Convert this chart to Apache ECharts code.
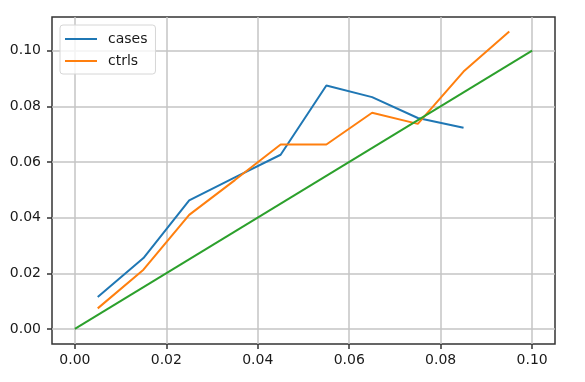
<!DOCTYPE html>
<html>
<head>
<meta charset="utf-8">
<script src="https://cdn.jsdelivr.net/npm/echarts@6/dist/echarts.min.js"></script>
<style>html,body{margin:0;padding:0;background:#fff}#c{width:585px;height:382px}</style>
</head>
<body>
<div id="c"></div>
<script>
var casesX = [0.005, 0.015, 0.025, 0.035, 0.045, 0.055, 0.065, 0.075, 0.085];
var casesY = [0.0115, 0.0255, 0.0462, 0.0545, 0.0626, 0.0875, 0.0833, 0.0758, 0.0723];
var ctrlsX = [0.005, 0.015, 0.025, 0.035, 0.045, 0.055, 0.065, 0.075, 0.085, 0.095];
var ctrlsY = [0.0074, 0.0213, 0.041, 0.0535, 0.0663, 0.0663, 0.0777, 0.0737, 0.0925, 0.1069];
var refX = [0, 0.1];
var refY = [0, 0.1];
var xTicks = [0, 0.02, 0.04, 0.06, 0.08, 0.10];
var yTicks = [0, 0.02, 0.04, 0.06, 0.08, 0.10];

function pairs(xs, ys) { return xs.map(function (x, i) { return [x, ys[i]]; }); }

var font = 'DejaVu Sans';
var chart = echarts.init(document.getElementById('c'), null, { renderer: 'canvas' });
chart.setOption({
  animation: false,
  backgroundColor: '#fff',
  grid: { left: 52, right: 30, top: 17, bottom: 38, show: true, borderColor: '#333', borderWidth: 1.5, backgroundColor: 'transparent' },
  xAxis: {
    type: 'value', min: -0.005, max: 0.105,
    axisLine: { show: false, onZero: false },
    axisTick: { show: true, length: 5, lineStyle: { color: '#333', width: 1.5 }, customValues: xTicks },
    axisLabel: { customValues: xTicks, margin: 9, fontFamily: font, fontSize: 14, color: '#1a1a1a',
      formatter: function (v) { return v.toFixed(2); } },
    splitLine: { show: true, lineStyle: { color: '#c4c4c4', width: 1.5 } }
  },
  yAxis: {
    type: 'value', min: -0.0054, max: 0.1121,
    axisLine: { show: false, onZero: false },
    axisTick: { show: true, length: 5, lineStyle: { color: '#333', width: 1.5 }, customValues: yTicks },
    axisLabel: { customValues: yTicks, margin: 11, fontFamily: font, fontSize: 14, color: '#1a1a1a',
      formatter: function (v) { return v.toFixed(2); } },
    splitLine: { show: true, lineStyle: { color: '#c4c4c4', width: 1.5 } }
  },
  legend: {
    data: ['cases', 'ctrls'],
    orient: 'vertical', left: 60, top: 25,
    padding: [6, 8, 5, 5],
    itemWidth: 32, itemHeight: 2, itemGap: 6,
    icon: 'rect',
    backgroundColor: 'rgba(255,255,255,0.8)',
    borderColor: '#d6d6d6', borderWidth: 1, borderRadius: 3,
    textStyle: { fontFamily: font, fontSize: 14, color: '#1a1a1a', lineHeight: 16, padding: [0, 0, 0, 6] }
  },
  series: [
    { name: 'cases', type: 'line', data: pairs(casesX, casesY), showSymbol: false, symbol: 'none',
      lineStyle: { color: '#1f77b4', width: 2 }, itemStyle: { color: '#1f77b4' }, z: 3 },
    { name: 'ctrls', type: 'line', data: pairs(ctrlsX, ctrlsY), showSymbol: false, symbol: 'none',
      lineStyle: { color: '#ff7f0e', width: 2 }, itemStyle: { color: '#ff7f0e' }, z: 4 },
    { name: 'ref', type: 'line', data: pairs(refX, refY), showSymbol: false, symbol: 'none',
      lineStyle: { color: '#2ca02c', width: 2 }, itemStyle: { color: '#2ca02c' }, z: 5 }
  ]
});
</script>
</body>
</html>
